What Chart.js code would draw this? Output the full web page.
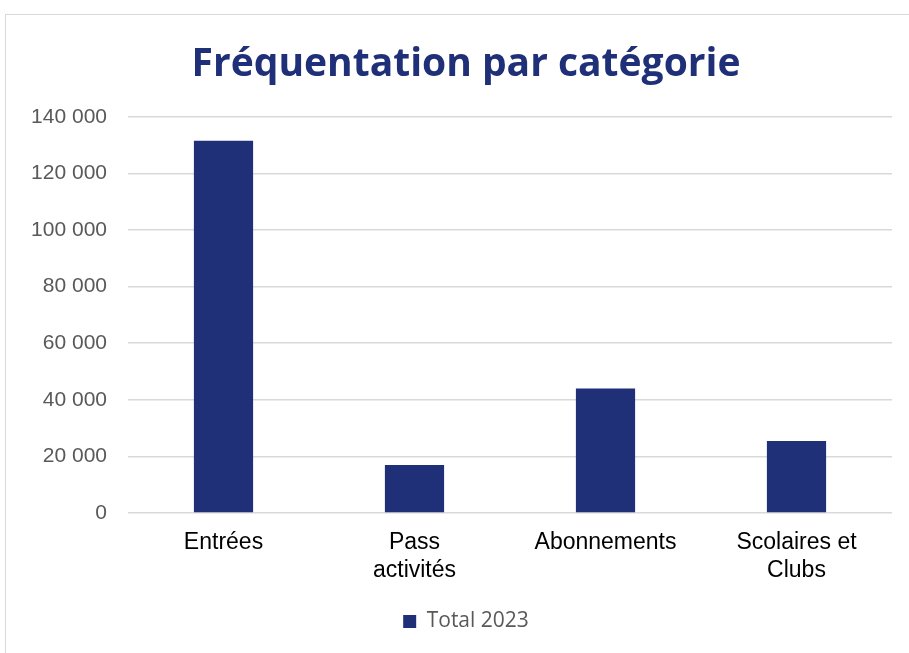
<!DOCTYPE html>
<html lang="fr">
<head>
<meta charset="utf-8">
<title>Fréquentation par catégorie</title>
<script src="https://cdn.jsdelivr.net/npm/chart.js@4/dist/chart.umd.min.js"></script>
<style>
  html, body { margin: 0; padding: 0; background: #fff; overflow: hidden; width: 909px; height: 653px; }
  .frame { position: absolute; left: 5px; top: 14px; width: 920px; height: 700px; border: 1px solid #d9d9d9; }
  canvas { display: block; }
</style>
</head>
<body>
<div class="frame">
  <canvas id="barChart" width="920" height="627"></canvas>
</div>
<script>
// data
const categories = ['Entrées', ['Pass', 'activités'], 'Abonnements', ['Scolaires et', 'Clubs']];
const seriesName = 'Total 2023';
const total2023 = [131500, 17000, 44000, 25400];
const yMin = 0;
const yMax = 140000;
const yStep = 20000;

const navy = '#1f3078';

// "140 000" style numbers
function formatNumber(v) {
    return String(v).replace(/\B(?=(\d{3})+(?!\d))/g, ' ');
}

// centre title and legend on the whole canvas, not only on the padded area
const centerOnCanvas = {
    id: 'centerOnCanvas',
    afterLayout(chart) {
        [chart.titleBlock, chart.legend].forEach(box => {
            if (!box) return;
            box.left = 0;
            box.right = chart.width;
            box.width = chart.width;
        });
    }
};

const ctx = document.getElementById('barChart').getContext('2d');
new Chart(ctx, {
    type: 'bar',
    data: {
        labels: categories,
        datasets: [{
            label: seriesName,
            data: total2023,
            backgroundColor: navy,
            borderWidth: 0,
            categoryPercentage: 1.0,
            barPercentage: 0.31
        }]
    },
    options: {
        responsive: false,
        animation: false,
        layout: { padding: { left: 0, right: 34, top: 0, bottom: 0 } },
        plugins: {
            title: {
                display: true,
                text: 'Fréquentation par catégorie',
                color: navy,
                font: { family: 'Open Sans', size: 39, weight: 'bold', lineHeight: 1.2 },
                padding: { top: 26, bottom: 29 }
            },
            legend: {
                position: 'bottom',
                labels: {
                    color: '#595959',
                    boxWidth: 13,
                    boxHeight: 13,
                    padding: 10,
                    font: { family: 'Open Sans', size: 21 }
                }
            },
            tooltip: { enabled: false }
        },
        scales: {
            x: {
                grid: { display: false, drawTicks: false },
                border: { display: false },
                ticks: {
                    color: '#000',
                    padding: 16,
                    maxRotation: 0,
                    autoSkip: false,
                    font: { family: 'Liberation Sans', size: 23, lineHeight: 1.2 }
                },
                afterFit: function(scale) { scale.height = 88; }
            },
            y: {
                min: yMin,
                max: yMax,
                ticks: {
                    stepSize: yStep,
                    color: '#595959',
                    padding: 21,
                    font: { family: 'Liberation Sans', size: 21 },
                    callback: v => formatNumber(v)
                },
                grid: { color: '#d9d9d9', lineWidth: 1.5, drawTicks: false },
                border: { display: false },
                afterFit: function(scale) { scale.width = 122; }
            }
        }
    },
    plugins: [centerOnCanvas]
});
</script>
</body>
</html>
